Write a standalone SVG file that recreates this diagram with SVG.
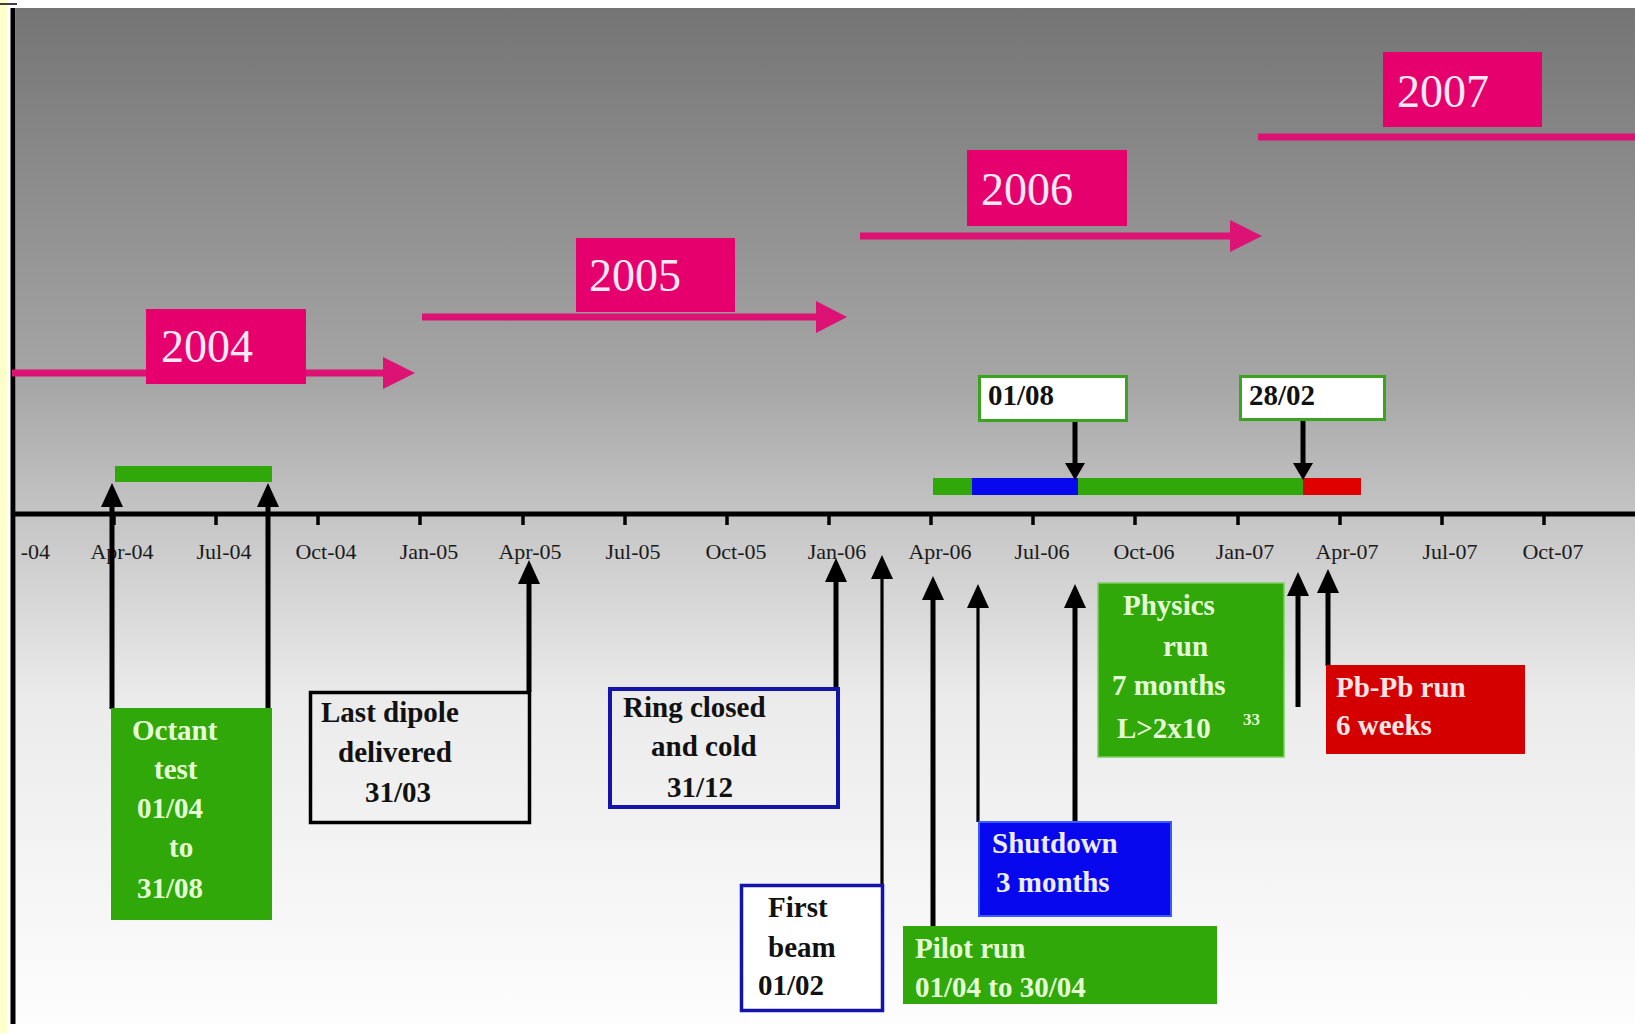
<svg xmlns="http://www.w3.org/2000/svg" width="1635" height="1034" viewBox="0 0 1635 1034">
<defs>
<linearGradient id="bg" x1="0" y1="8" x2="0" y2="1024" gradientUnits="userSpaceOnUse">
<stop offset="0" stop-color="#757575"/>
<stop offset="0.37" stop-color="#a6a6a6"/>
<stop offset="0.5" stop-color="#c5c5c5"/>
<stop offset="0.68" stop-color="#ebebeb"/>
<stop offset="1" stop-color="#fdfdfd"/>
</linearGradient>
<marker id="up" markerUnits="userSpaceOnUse" markerWidth="24" markerHeight="22" refX="0" refY="11" orient="auto" overflow="visible">
<path d="M0,0 L24,11 L0,22 z" fill="#000"/>
</marker>
<marker id="dn" markerUnits="userSpaceOnUse" markerWidth="17" markerHeight="20" refX="0" refY="10" orient="auto" overflow="visible">
<path d="M0,0 L17,10 L0,20 z" fill="#000"/>
</marker>
</defs>
<style>
.lbl{font-family:"Liberation Serif","Times New Roman",serif;font-size:22px;fill:#1a1a1a}
.yr{font-family:"Liberation Serif","Times New Roman",serif;font-size:46px;fill:#fdeaf3}
.b{font-family:"Liberation Serif","Times New Roman",serif;font-size:29px;font-weight:bold}
.dk{fill:#111}
.wg{fill:#e6ffd6}
.wb{fill:#ececff}
.wr{fill:#ffe6e6}
.ybox{fill:#e6006e}
.yline{stroke:#dc1274;stroke-width:7;fill:none;stroke-linecap:butt}
.conn{stroke:#000;stroke-width:5;fill:none}
.thin{stroke-width:3.2}
.tick{stroke:#000;stroke-width:3.5}
</style>
<rect x="0" y="0" width="1635" height="1034" fill="#ffffff"/>
<rect x="16" y="8" width="1619" height="1016" fill="url(#bg)"/>
<rect x="0" y="0" width="7" height="1033" fill="#ffffcc"/>
<line x1="0" y1="4" x2="17" y2="4" stroke="#000" stroke-width="1.5"/>
<line x1="13" y1="8" x2="13" y2="1024" stroke="#000" stroke-width="5"/>

<g id="axis">
<line x1="12" y1="514" x2="1635" y2="514" stroke="#000" stroke-width="5"/>
<g class="tick">
<line x1="114" y1="514" x2="114" y2="525"/>
<line x1="216" y1="514" x2="216" y2="525"/>
<line x1="318" y1="514" x2="318" y2="525"/>
<line x1="420" y1="514" x2="420" y2="525"/>
<line x1="523" y1="514" x2="523" y2="525"/>
<line x1="625" y1="514" x2="625" y2="525"/>
<line x1="727" y1="514" x2="727" y2="525"/>
<line x1="829" y1="514" x2="829" y2="525"/>
<line x1="931" y1="514" x2="931" y2="525"/>
<line x1="1033" y1="514" x2="1033" y2="525"/>
<line x1="1135" y1="514" x2="1135" y2="525"/>
<line x1="1238" y1="514" x2="1238" y2="525"/>
<line x1="1340" y1="514" x2="1340" y2="525"/>
<line x1="1442" y1="514" x2="1442" y2="525"/>
<line x1="1544" y1="514" x2="1544" y2="525"/>
</g>
<g class="lbl" text-anchor="middle">
<text x="50" y="559" text-anchor="end">-04</text>
<text x="122" y="559">Apr-04</text>
<text x="224" y="559">Jul-04</text>
<text x="326" y="559">Oct-04</text>
<text x="429" y="559">Jan-05</text>
<text x="530" y="559">Apr-05</text>
<text x="633" y="559">Jul-05</text>
<text x="736" y="559">Oct-05</text>
<text x="837" y="559">Jan-06</text>
<text x="940" y="559">Apr-06</text>
<text x="1042" y="559">Jul-06</text>
<text x="1144" y="559">Oct-06</text>
<text x="1245" y="559">Jan-07</text>
<text x="1347" y="559">Apr-07</text>
<text x="1450" y="559">Jul-07</text>
<text x="1553" y="559">Oct-07</text>
</g>
</g>

<g id="bars">
<rect x="115" y="466" width="157" height="16" fill="#30a80a"/>
<rect x="933" y="478" width="39" height="17" fill="#30a80a"/>
<rect x="972" y="478" width="106" height="17" fill="#0808f0"/>
<rect x="1078" y="478" width="225" height="17" fill="#30a80a"/>
<rect x="1303" y="478" width="58" height="17" fill="#e00000"/>
</g>

<g id="connectors">
<line class="yline" x1="12" y1="373" x2="384" y2="373"/>
<polygon points="383,357 415,373 383,389" fill="#dc1274"/>
<line class="yline" x1="422" y1="317" x2="817" y2="317"/>
<polygon points="816,301 847,317 816,333" fill="#dc1274"/>
<line class="yline" x1="860" y1="236" x2="1231" y2="236"/>
<polygon points="1230,220 1262,236 1230,252" fill="#dc1274"/>
<line class="yline" x1="1258" y1="137" x2="1635" y2="137" stroke-linecap="round"/>

<line class="conn" x1="112" y1="709" x2="112" y2="507" marker-end="url(#up)"/>
<line class="conn" x1="268" y1="709" x2="268" y2="507" marker-end="url(#up)"/>
<line class="conn" x1="529" y1="692" x2="529" y2="584" marker-end="url(#up)"/>
<line class="conn" x1="836" y1="688" x2="836" y2="582" marker-end="url(#up)"/>
<line class="conn thin" x1="882" y1="885" x2="882" y2="579" marker-end="url(#up)"/>
<line class="conn" x1="933" y1="927" x2="933" y2="600" marker-end="url(#up)"/>
<line class="conn thin" x1="978" y1="822" x2="978" y2="608" marker-end="url(#up)"/>
<line class="conn" x1="1075" y1="822" x2="1075" y2="608" marker-end="url(#up)"/>
<line class="conn" x1="1298" y1="707" x2="1298" y2="596" marker-end="url(#up)"/>
<line class="conn" x1="1328" y1="666" x2="1328" y2="593" marker-end="url(#up)"/>
<line class="conn" x1="1075" y1="422" x2="1075" y2="463" marker-end="url(#dn)"/>
<line class="conn" x1="1303" y1="420" x2="1303" y2="463" marker-end="url(#dn)"/>
</g>

<g id="y2004"><rect class="ybox" x="146" y="309" width="160" height="75"/><text class="yr" x="161" y="362">2004</text></g>
<g id="y2005"><rect class="ybox" x="576" y="238" width="159" height="74"/><text class="yr" x="589" y="291">2005</text></g>
<g id="y2006"><rect class="ybox" x="967" y="150" width="160" height="76"/><text class="yr" x="981" y="205">2006</text></g>
<g id="y2007"><rect class="ybox" x="1383" y="52" width="159" height="75"/><text class="yr" x="1397" y="107">2007</text></g>

<g id="d0108"><rect x="979.5" y="376.5" width="147" height="44" fill="#ffffff" stroke="#3aa41e" stroke-width="3"/><text class="b dk" x="988" y="405">01/08</text></g>
<g id="d2802"><rect x="1240.5" y="376.5" width="144" height="43" fill="#ffffff" stroke="#3aa41e" stroke-width="3"/><text class="b dk" x="1249" y="405">28/02</text></g>

<g id="octant">
<rect x="111" y="708" width="161" height="212" fill="#30a80a"/>
<g class="b wg"><text x="132" y="740">Octant</text><text x="154" y="779">test</text><text x="137" y="818">01/04</text><text x="169" y="857">to</text><text x="137" y="898">31/08</text></g>
</g>
<g id="dipole">
<rect x="310.5" y="692.5" width="219" height="130" fill="none" stroke="#000" stroke-width="3.5"/>
<g class="b dk"><text x="321" y="722">Last dipole</text><text x="338" y="762">delivered</text><text x="365" y="802">31/03</text></g>
</g>
<g id="ring">
<rect x="610" y="689" width="228" height="118" fill="none" stroke="#1414aa" stroke-width="4"/>
<g class="b dk"><text x="623" y="717">Ring closed</text><text x="651" y="756">and cold</text><text x="667" y="797">31/12</text></g>
</g>
<g id="firstbeam">
<rect x="741.5" y="885.5" width="141" height="125" fill="#ffffff" stroke="#1414aa" stroke-width="3.5"/>
<g class="b dk"><text x="768" y="917">First</text><text x="768" y="957">beam</text><text x="758" y="995">01/02</text></g>
</g>
<g id="pilot">
<rect x="903" y="926" width="314" height="78" fill="#30a80a"/>
<g class="b wg"><text x="915" y="958">Pilot run</text><text x="915" y="997">01/04 to 30/04</text></g>
</g>
<g id="shutdown">
<rect x="979" y="822" width="192" height="94" fill="#0808ee" stroke="#3a5cff" stroke-width="2"/>
<g class="b wb"><text x="992" y="853">Shutdown</text><text x="996" y="892">3 months</text></g>
</g>
<g id="physics">
<rect x="1098" y="583" width="186" height="174" fill="#30a80a" stroke="#78d060" stroke-width="1.5"/>
<g class="b wg"><text x="1123" y="615">Physics</text><text x="1163" y="656">run</text><text x="1112" y="695">7 months</text><text x="1117" y="738">L&gt;2x10</text><text x="1243" y="725" font-size="17">33</text></g>
</g>
<g id="pbpb">
<rect x="1326" y="665" width="199" height="89" fill="#d40000"/>
<g class="b wr"><text x="1336" y="697">Pb-Pb run</text><text x="1336" y="735">6 weeks</text></g>
</g>
</svg>
